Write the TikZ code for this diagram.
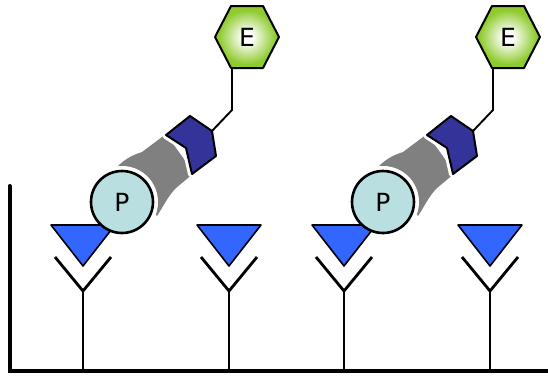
\documentclass[tikz,border=0pt]{standalone}
\usepackage{fontspec}
\setmainfont{DejaVu Sans}
\definecolor{epiblue}{HTML}{3366FF}
\definecolor{probecyan}{HTML}{B9DFE0}
\definecolor{linkgray}{HTML}{808080}
\definecolor{tagblue}{HTML}{333399}
\definecolor{taggreen}{HTML}{8FCB2E}
\pgfdeclareradialshading{hexglow}{\pgfpoint{0bp}{0bp}}{%
  color(0bp)=(white); color(4bp)=(white); color(22bp)=(taggreen); color(50bp)=(taggreen)}
\begin{document}
\begin{tikzpicture}[x=1pt,y=-1pt,
  axisline/.style={line width=4pt, line cap=round},
  abline/.style={line width=2.8pt},
  epitope/.style={fill=epiblue, draw=black, line width=1.6pt, line join=round},
  halo/.style={draw=white, fill=white, line width=8pt, line join=round},
  probe/.style={circle, fill=probecyan, draw=black, line width=2.6pt,
    minimum size=62pt, inner sep=0pt, font=\fontsize{25}{25}\selectfont},
  tagbox/.style={fill=tagblue, draw=black, line width=2pt, line join=round},
  linker/.style={fill=linkgray, draw=none},
  wire/.style={line width=1.9pt, line join=miter},
  hexbox/.style={draw=black, line width=2pt, line join=round, shading=hexglow},
  hexlabel/.style={inner sep=0pt, font=\fontsize{25}{25}\selectfont}
]
\useasboundingbox (0,0) rectangle (548,375);

% axes
\coordinate (ytop) at (9.5,186);
\coordinate (origin) at (9.5,371);
\coordinate (xend) at (548,371);
\draw[axisline] (ytop) -- (origin) -- (xend);

% antibodies standing on the surface
\newcommand\antibody[2]{%
  \coordinate (base#1) at (#2,371);
  \coordinate (fork#1) at (#2,291);
  \coordinate (armL#1) at (#2-28,257);
  \coordinate (armR#1) at (#2+28,257);
  \draw[abline] (base#1) -- (fork#1);
  \draw[abline] (armL#1) -- (fork#1) -- (armR#1);
}
\antibody{1}{83}
\antibody{2}{229}
\antibody{3}{344}
\antibody{4}{490}

% grey linker bodies between probe and tag
\newcommand\linkerbody[1]{%
  \begin{scope}[xshift=#1]
    \path[linker] (117,167) .. controls (126,158) and (133,155) .. (142,152)
      -- (166,134) -- (194,173) -- (176,188)
      .. controls (168,196) and (163,207) .. (157,216) -- cycle;
  \end{scope}
}
\linkerbody{0}
\linkerbody{261}

% white gaps around probe and tag
\newcommand\gaps[1]{%
  \begin{scope}[xshift=#1]
    \fill[white] (122,202) circle[radius=36];
    \path[halo] (166,135) -- (190,116) -- (212,131) -- (216,156)
      -- (192,174) -- (186,148) -- cycle;
  \end{scope}
}
\gaps{0}
\gaps{261}

% epitopes on the antibody arms
\newcommand\epitopetri[1]{%
  \path[epitope] (#1-32,225) -- (#1+32,225) -- (#1,266) -- cycle;
}
\epitopetri{83}
\epitopetri{229}
\epitopetri{344}
\epitopetri{490}

% probe, tag, wire and enzyme
\newcommand\probeset[2]{%
  \begin{scope}[xshift=#2]
    \path[tagbox] (166,135) -- (190,116) -- (212,131) -- (216,156)
      -- (192,174) -- (186,148) -- cycle;
    \coordinate (tagtip#1) at (212,131);
    \node[probe] (P#1) at (122,202) {P};
    \path[hexbox] (231,6) -- (263,6) -- (279,37) -- (263,68)
      -- (231,68) -- (215,37) -- cycle;
    \node[hexlabel] (E#1) at (247,37) {E};
    \coordinate (hexfoot#1) at (232,68);
    \coordinate (bend#1) at (232,110);
    \draw[wire] (hexfoot#1) -- (bend#1) -- (tagtip#1);
  \end{scope}
}
\probeset{1}{0}
\probeset{2}{261}
\end{tikzpicture}
\end{document}
